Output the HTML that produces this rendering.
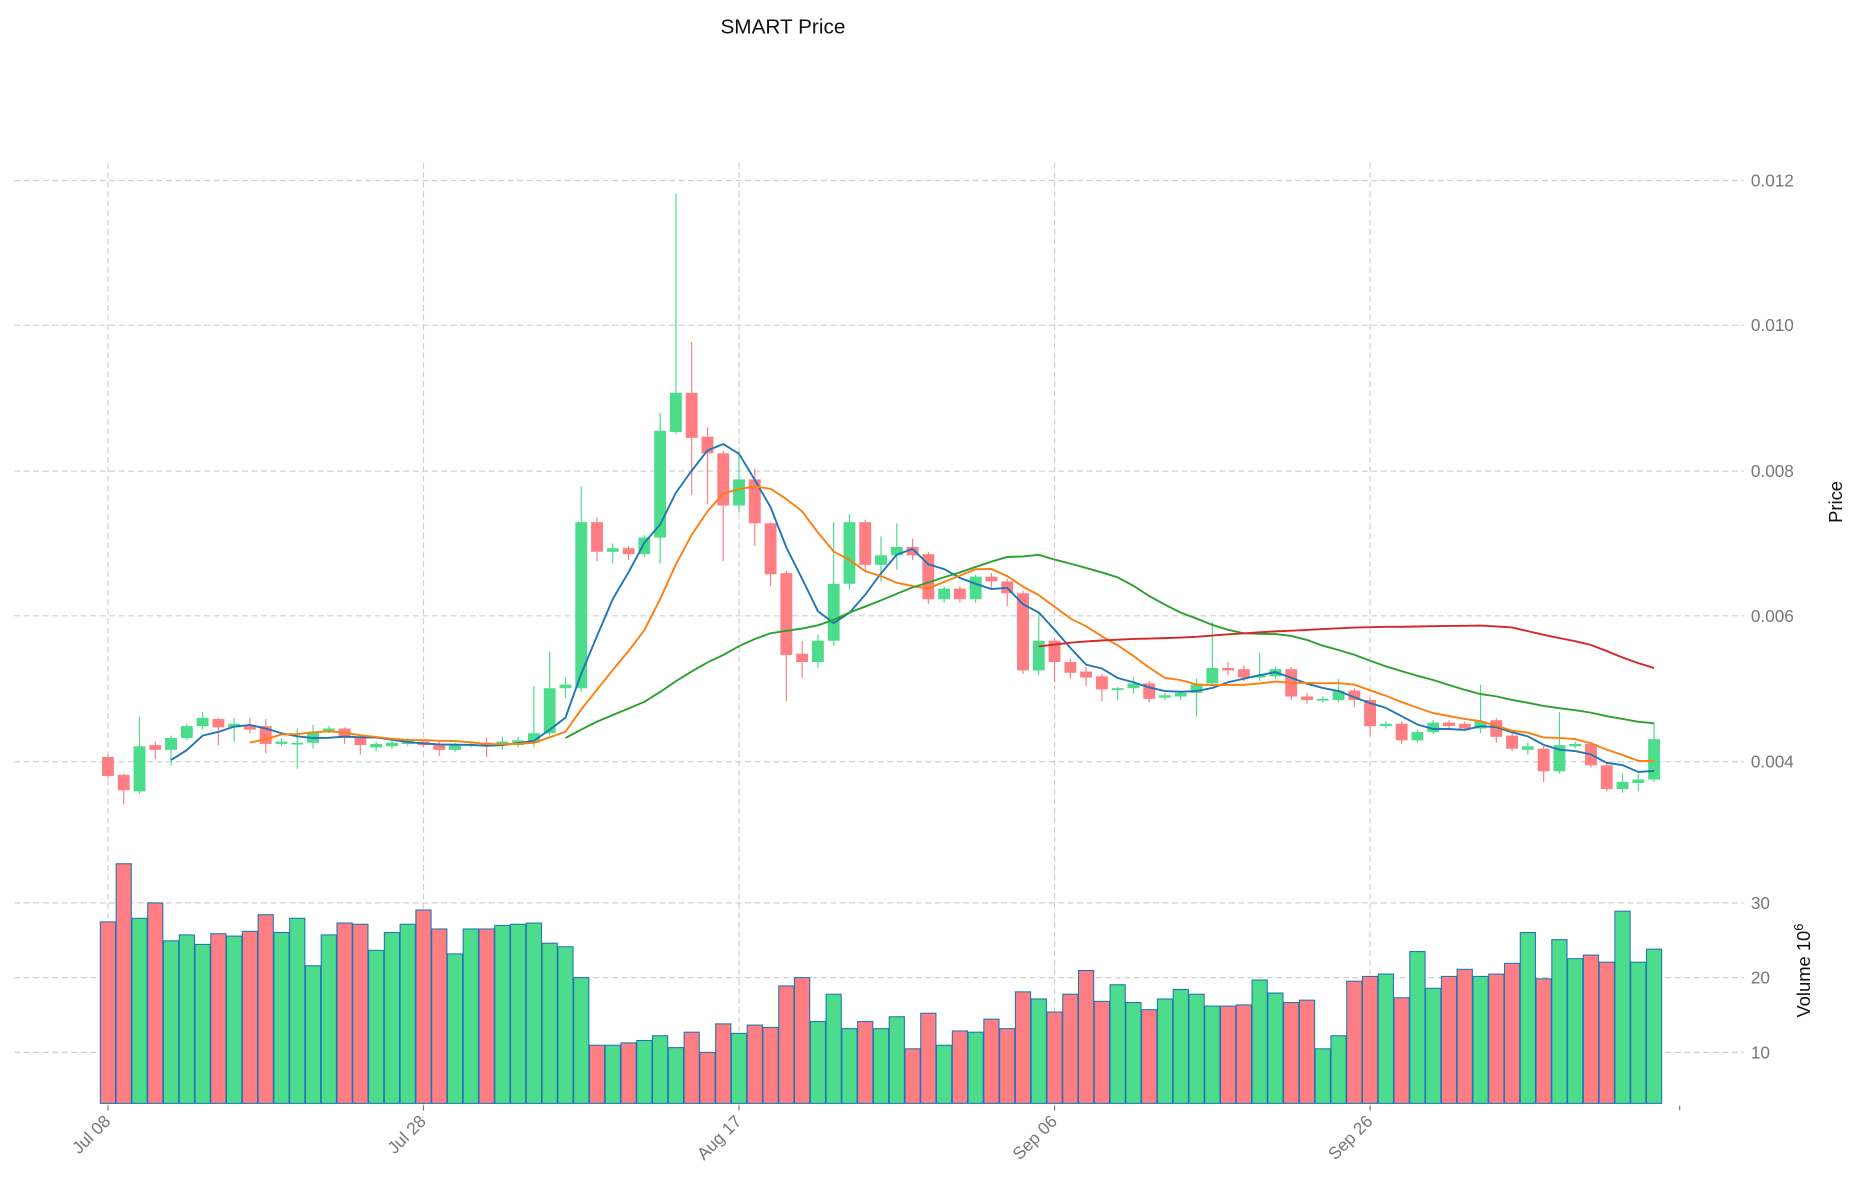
<!DOCTYPE html>
<html><head><meta charset="utf-8"><style>
html,body{margin:0;padding:0;background:#fff;}
svg{display:block;font-family:"Liberation Sans","DejaVu Sans",sans-serif;}
</style></head><body>
<svg id="c" width="1860" height="1202" viewBox="0 0 1568 1013" xmlns="http://www.w3.org/2000/svg">
<rect width="1568" height="1013" fill="#fff"/>
<g id="grid" stroke="#d0d0d0" stroke-width="1" stroke-dasharray="5,3" fill="none"></g>
<g id="vol"></g>
<g id="cand"></g>
<g id="ma" fill="none" stroke-width="1.6"></g>
<g id="txt" fill="#777" font-size="14.5"></g>
<text x="660" y="28" font-size="17.5" text-anchor="middle" fill="#111">SMART Price</text>
<text transform="translate(1553,423) rotate(-90)" font-size="15.5" text-anchor="middle" fill="#111">Price</text>
<text transform="translate(1526,818) rotate(-90)" font-size="15.5" text-anchor="middle" fill="#111">Volume  10<tspan dy="-6" font-size="11">6</tspan></text>
</svg>
<script>
var C=[
[638,654,636,656,'r'],[653,666,652,678,'r'],[629,667,604,669,'g'],[628,632,625,640,'r'],[622,632,620,645,'g'],
[612,622,610,624,'g'],[605,612,600,615,'g'],[606,613,605,628,'r'],[610,613,605,625,'g'],[612,615,605,618,'r'],
[612,627,606,635,'r'],[625,627,622,629,'g'],[626,627,614,648,'g'],[617,626,611,631,'g'],[614,616,612,618,'g'],
[614,622,613,627,'r'],[621,628,619,636,'r'],[627,630,625,633,'g'],[626,629,624,631,'g'],[624,627,622,629,'g'],
[625,628,623,630,'r'],[628,632,625,637,'r'],[628,632,626,634,'g'],[627,628,625,630,'g'],[626,628,622,638,'r'],
[625,628,621,632,'g'],[624,628,621,630,'g'],[618,626,578,630,'g'],[580,618,549,620,'g'],[577,580,571,588,'g'],
[440,580,410,583,'g'],[440,465,436,473,'r'],[462,465,458,475,'g'],[462,467,460,472,'r'],[453,467,451,469,'g'],
[363,453,348,475,'g'],[331,364,163,366,'g'],[331,369,288,417,'r'],[368,382,360,425,'r'],[382,426,380,473,'r'],
[404,426,380,432,'g'],[404,441,395,460,'r'],[441,484,440,494,'r'],[483,552,481,591,'r'],[551,558,540,571,'r'],
[540,558,535,563,'g'],[492,540,440,544,'g'],[440,492,433,497,'g'],[440,476,438,482,'r'],[468,476,452,490,'g'],
[461,468,441,480,'g'],[461,468,454,472,'r'],[467,505,465,509,'r'],[496,505,494,508,'g'],[496,505,494,508,'r'],
[486,505,484,508,'g'],[486,490,483,497,'r'],[490,500,488,511,'r'],[500,565,498,568,'r'],[540,565,516,569,'g'],
[540,558,538,575,'r'],[558,567,555,572,'r'],[566,571,562,578,'r'],[570,581,568,591,'r'],[580,581,579,590,'g'],
[576,580,571,585,'g'],[576,589,574,592,'r'],[586,588,584,590,'g'],[584,587,582,590,'g'],[577,584,572,604,'g'],
[563,576,524,578,'g'],[563,565,558,569,'r'],[564,571,561,574,'r'],[569,571,550,574,'g'],[564,570,562,572,'g'],
[564,587,562,590,'r'],[587,590,584,593,'r'],[589,590,587,592,'g'],[582,590,572,592,'g'],[582,590,580,596,'r'],
[590,612,588,620,'r'],[610,612,608,614,'g'],[610,624,608,627,'r'],[617,624,615,626,'g'],[609,617,607,619,'g'],
[609,612,607,614,'r'],[610,614,608,616,'r'],[608,614,577,618,'g'],[607,621,605,626,'r'],[620,631,618,633,'r'],
[629,632,626,636,'g'],[631,650,629,659,'r'],[628,650,600,652,'g'],[627,629,625,631,'g'],[627,645,625,647,'r'],
[645,665,643,667,'r'],[659,665,652,668,'g'],[657,660,652,667,'g'],[623,657,610,659,'g']];
var V=[777,728,774,761,793,788,796,787,789,785,771,786,774,814,788,778,779,801,786,779,767,783,804,783,783,780,779,778,795,798,824,881,881,879,877,873,883,870,887,863,871,864,866,831,824,861,838,867,861,867,857,884,854,881,869,870,859,867,836,842,853,838,818,844,830,845,851,842,834,838,848,848,847,826,837,845,843,884,873,827,823,821,841,802,833,823,817,823,821,812,786,825,792,808,805,811,768,811,800];
var G='#4cdc8b',R='#ff7e84',NS='http://www.w3.org/2000/svg';
function el(p,t,a){var e=document.createElementNS(NS,t);for(var k in a)e.setAttribute(k,a[k]);document.getElementById(p).appendChild(e);return e;}
function X(i){return 91+13.3*i;}
[152,274,397,519,642,761,824,887].forEach(function(y){el('grid','line',{x1:12,x2:1470,y1:y,y2:y});});
[91,357,623,889,1155].forEach(function(x){el('grid','line',{x1:x,x2:x,y1:137,y2:932});});
V.forEach(function(v,i){el('vol','rect',{x:X(i)-6.4,y:v,width:12.8,height:930-v,fill:C[i][4]=='g'?G:R,stroke:'#1f77b4','stroke-width':0.9});});
C.forEach(function(c,i){var col=c[4]=='g'?G:R;var x=X(i);
el('cand','line',{x1:x,x2:x,y1:c[2],y2:c[3],stroke:col,'stroke-width':1});
el('cand','rect',{x:x-5,y:c[0],width:10,height:Math.max(1.5,c[1]-c[0]),fill:col});});
var cl=C.map(function(c){return c[4]=='g'?c[0]:c[1];});
function ma(n,col){var pts=[];for(var i=n-1;i<cl.length;i++){var s=0;for(var j=i-n+1;j<=i;j++)s+=cl[j];pts.push(X(i).toFixed(1)+','+(s/n).toFixed(1));}
el('ma','polyline',{points:pts.join(' '),stroke:col});}
ma(5,'#1f77b4');ma(10,'#ff7f0e');ma(30,'#2ca02c');ma(60,'#d62728');
[['0.012',152],['0.010',274],['0.008',397],['0.006',519],['0.004',642],['30',761],['20',824],['10',887]].forEach(function(t){
var e=el('txt','text',{x:1476,y:t[1]+5});e.textContent=t[0];});
[['Jul 08',91],['Jul 28',357],['Aug 17',623],['Sep 06',889],['Sep 26',1155]].forEach(function(t){
var e=el('txt','text',{transform:'translate('+(t[1]+3)+',946) rotate(-45)','text-anchor':'end'});e.textContent=t[0];
el('txt','line',{x1:t[1],x2:t[1],y1:932,y2:936,stroke:'#777'});});
el('txt','line',{x1:1416,x2:1416,y1:932,y2:936,stroke:'#777'});
</script>
</body></html>
